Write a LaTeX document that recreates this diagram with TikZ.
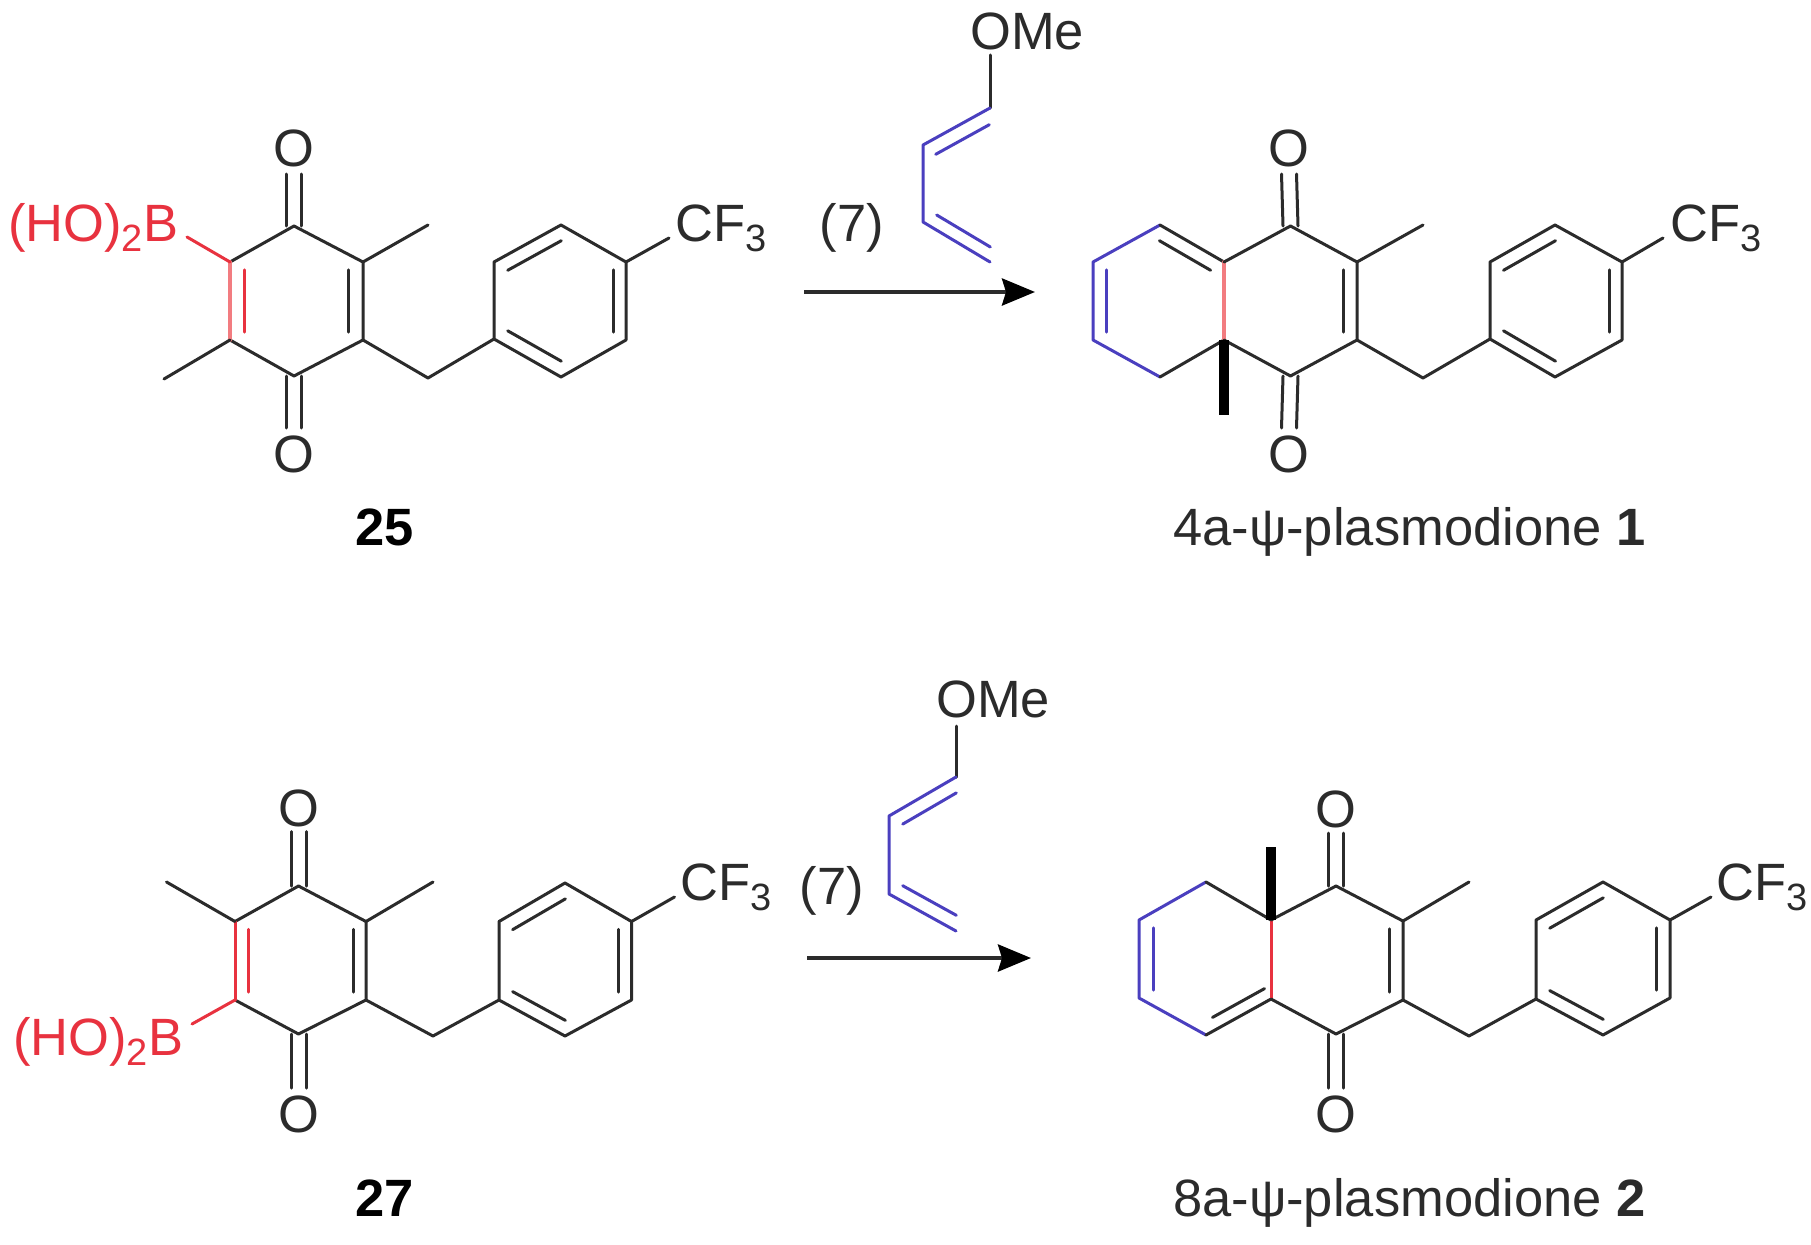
\documentclass[tikz,border=0pt]{standalone}
\usepackage{fontspec}
\setmainfont{Liberation Sans}
\usetikzlibrary{calc,arrows.meta}
\definecolor{inkk}{HTML}{2B2B2B}
\definecolor{bblue}{HTML}{4A3FBF}
\definecolor{bred}{HTML}{E8323F}
\definecolor{bpink}{HTML}{F27C80}
\newcommand{\sbn}[1]{\raisebox{-10pt}{\fontsize{38}{38}\selectfont #1}}
\newcommand{\ibond}[4]{\draw[#1] ($(#2)!.1!(#3)+(#4)$) -- ($(#2)!.9!(#3)+(#4)$);}
\newcommand{\cobond}[2]{\draw[bk] ($(#1)+(-7.5,0)$) -- ($(#2)+(-7.5,0)$); \draw[bk] ($(#1)+(7.5,0)$) -- ($(#2)+(7.5,0)$);}
\newcommand{\atoms}[1]{\foreach \n/\x/\y in {#1} {\coordinate (\n) at (\x,\y);}}
\tikzset{
  bk/.style={draw=inkk,line width=3pt,line cap=round,line join=round},
  bb/.style={draw=bblue,line width=3pt,line cap=round,line join=round},
  br/.style={draw=bred,line width=3pt,line cap=round,line join=round},
  bp/.style={draw=bpink,line width=4pt,line cap=round,line join=round},
  bold bond/.style={draw=black,line width=10pt},
  lab/.style={text=inkk,inner sep=0pt,anchor=base west,font=\fontsize{52.5}{60}\selectfont},
  olab/.style={text=inkk,inner sep=0pt,anchor=base,font=\fontsize{52.5}{60}\selectfont},
  rlab/.style={text=bred,inner sep=0pt,anchor=base west,font=\fontsize{52.5}{60}\selectfont},
  num/.style={text=black,inner sep=0pt,anchor=base,font=\fontsize{52.5}{60}\selectfont\bfseries},
  rxn/.style={draw=inkk,line width=4pt,-{Stealth[length=33pt,width=27pt,inset=4pt,fill=black,color=black]}}
}
\begin{document}
\begin{tikzpicture}[x=1pt,y=-1pt]
\useasboundingbox (0,0) rectangle (1811,1244);
\fill[white] (0,0) rectangle (1811,1244);
% ---------- 25
\atoms{a1/294/226,a2/363/262,a3/363/340,a4/294/376,a5/230/340,a6/230/262,
 am1/428/225,am2/164/379,ach/428/378,aoe1/294/174,aoe2/294/428,ab/187/237,
 ap1/494/339,ap2/494/262,ap3/561/225,ap4/626/262,ap5/626/340,ap6/561/377,acf/669/238}
\node[olab] (ao1) at (294,166) {O};
\node[olab] (ao2) at (294,472) {O};
\node[rlab] (ahob) at (8,241) {(HO)\sbn{2}B};
\node[lab] (acf3) at (675,241) {CF\sbn{3}};
\node[num] (n25) at (385,545) {25};
\draw[bk] (a6)--(a1)--(a2)--(a3)--(a4)--(a5);
\draw[bp] (a5)--(a6);
\ibond{br}{a5}{a6}{14,0}
\ibond{bk}{a2}{a3}{-15,0}
\draw[br] (ab)--(a6);
\draw[bk] (a2)--(am1);
\draw[bk] (a5)--(am2);
\cobond{a1}{aoe1}
\cobond{a4}{aoe2}
\draw[bk] (a3)--(ach)--(ap1);
\draw[bk] (ap1)--(ap2)--(ap3)--(ap4)--(ap5)--(ap6)--cycle;
\ibond{bk}{ap2}{ap3}{7,12}
\ibond{bk}{ap1}{ap6}{7,-12}
\ibond{bk}{ap4}{ap5}{-13,0}
\draw[bk] (ap4)--(acf);
% reagent 1
\node[lab,anchor=base] (r1) at (852,241) {(7)};
\coordinate (s1) at (804,292); \coordinate (e1) at (1035,292);
\draw[rxn] (s1)--(e1);
\node[lab] (ome1) at (970,50) {OMe};
\atoms{d0/990/55,d1/990/108,d2/923/145,d3/923/222,d4/990/262}
\draw[bk] (d0)--(d1);
\draw[bb] (d1)--(d2)--(d3)--(d4);
\ibond{bb}{d1}{d2}{6,13}
\ibond{bb}{d3}{d4}{7,-11}
% ---------- product 1
\atoms{b1/1160/225,b2/1093/262,b3/1093/340,b4/1160/377,bf1/1224/262,bf2/1224/340,
 c1/1290.5/226,c2/1357/262,c3/1357/340,c4/1290.5/376,bm/1423/225,bch/1423/378,
 boe1/1289/174,boe2/1289/428,bme/1224/415,
 bp1/1490/339,bp2/1490/262,bp3/1555/225,bp4/1622/262,bp5/1622/340,bp6/1555/377,bcf/1663/238}
\node[olab] (bo1) at (1289,166) {O};
\node[olab] (bo2) at (1289,472) {O};
\node[lab] (bcf3) at (1670,241) {CF\sbn{3}};
\node[lab] (lab1) at (1173,545) {4a-ψ-plasmodione \textbf{1}};
\draw[bb] (b1)--(b2)--(b3)--(b4);
\ibond{bb}{b2}{b3}{13,0}
\draw[bk] (b4)--(bf2);
\draw[bk] (b1)--(bf1);
\ibond{bk}{b1}{bf1}{-7,12}
\draw[bp] (bf1)--(bf2);
\draw[bk] (bf1)--(c1)--(c2)--(c3)--(c4)--(bf2);
\ibond{bk}{c2}{c3}{-14,0}
\draw[bold bond] (bf2)--(bme);
\draw[bk] (c2)--(bm);
\cobond{c1}{boe1}
\cobond{c4}{boe2}
\draw[bk] (c3)--(bch)--(bp1);
\draw[bk] (bp1)--(bp2)--(bp3)--(bp4)--(bp5)--(bp6)--cycle;
\ibond{bk}{bp2}{bp3}{7,12}
\ibond{bk}{bp1}{bp6}{7,-12}
\ibond{bk}{bp4}{bp5}{-13,0}
\draw[bk] (bp4)--(bcf);
% ---------- 27
\atoms{e_1/298.5/886,e_2/366/921.5,e_3/366/1000,e_4/298.5/1034,e_5/235/1000,e_6/235/921.5,
 em1/433/882,em2/166.5/882,ech/433/1036,eoe1/298.5/831.5,eoe2/298.5/1088,eb/192/1024,
 ep1/499/1000,ep2/499/921.5,ep3/565/883,ep4/631.5/921.5,ep5/631.5/1000,ep6/565/1036,ecf/674.5/897}
\node[olab] (eo1) at (298.5,826) {O};
\node[olab] (eo2) at (298.5,1132) {O};
\node[rlab] (ehob) at (13,1055) {(HO)\sbn{2}B};
\node[lab] (ecf3) at (680,900.5) {CF\sbn{3}};
\node[num] (n27) at (385,1216) {27};
\draw[bk] (e_5)--(e_4)--(e_3)--(e_2)--(e_1)--(e_6);
\draw[br] (e_5)--(e_6);
\ibond{br}{e_6}{e_5}{13,0}
\ibond{bk}{e_2}{e_3}{-13,0}
\draw[br] (eb)--(e_5);
\draw[bk] (e_2)--(em1);
\draw[bk] (e_6)--(em2);
\cobond{e_1}{eoe1}
\cobond{e_4}{eoe2}
\draw[bk] (e_3)--(ech)--(ep1);
\draw[bk] (ep1)--(ep2)--(ep3)--(ep4)--(ep5)--(ep6)--cycle;
\ibond{bk}{ep2}{ep3}{7,12}
\ibond{bk}{ep1}{ep6}{7,-12}
\ibond{bk}{ep4}{ep5}{-13,0}
\draw[bk] (ep4)--(ecf);
% reagent 2
\node[lab,anchor=base] (r2) at (832,904) {(7)};
\coordinate (s2) at (807,958); \coordinate (t2) at (1031,958);
\draw[rxn] (s2)--(t2);
\node[lab] (ome2) at (936,717) {OMe};
\atoms{f0/956/726,f1/956/777,f2/889/816,f3/889/894,f4/956/931}
\draw[bk] (f0)--(f1);
\draw[bb] (f1)--(f2)--(f3)--(f4);
\ibond{bb}{f1}{f2}{7,12}
\ibond{bb}{f3}{f4}{7,-12}
% ---------- product 2
\atoms{g1/1206/882,g2/1139/920,g3/1139/998,g4/1206/1035,gf1/1271/920,gf2/1271/999,
 h1/1336/886,h2/1403/921,h3/1403/1000,h4/1336/1034,hm/1469/882,hch/1469/1036,
 hoe1/1336/833,hoe2/1336/1088,gme/1271/847,
 hp1/1536/999,hp2/1536/920,hp3/1603/882,hp4/1670/920,hp5/1670/998,hp6/1603/1035,hcf/1711/897}
\node[olab] (ho1) at (1336,827) {O};
\node[olab] (ho2) at (1336,1132) {O};
\node[lab] (hcf3) at (1716,900.5) {CF\sbn{3}};
\node[lab] (lab2) at (1173,1216) {8a-ψ-plasmodione \textbf{2}};
\draw[bb] (g1)--(g2)--(g3)--(g4);
\ibond{bb}{g2}{g3}{14,0}
\draw[bk] (g1)--(gf1);
\draw[bk] (g4)--(gf2);
\ibond{bk}{g4}{gf2}{0,-14}
\draw[br] (gf1)--(gf2);
\draw[bk] (gf1)--(h1)--(h2)--(h3)--(h4)--(gf2);
\ibond{bk}{h2}{h3}{-14,0}
\draw[bold bond] (gf1)--(gme);
\draw[bk] (h2)--(hm);
\cobond{h1}{hoe1}
\cobond{h4}{hoe2}
\draw[bk] (h3)--(hch)--(hp1);
\draw[bk] (hp1)--(hp2)--(hp3)--(hp4)--(hp5)--(hp6)--cycle;
\ibond{bk}{hp2}{hp3}{7,12}
\ibond{bk}{hp1}{hp6}{7,-12}
\ibond{bk}{hp4}{hp5}{-14,0}
\draw[bk] (hp4)--(hcf);
\end{tikzpicture}
\end{document}
